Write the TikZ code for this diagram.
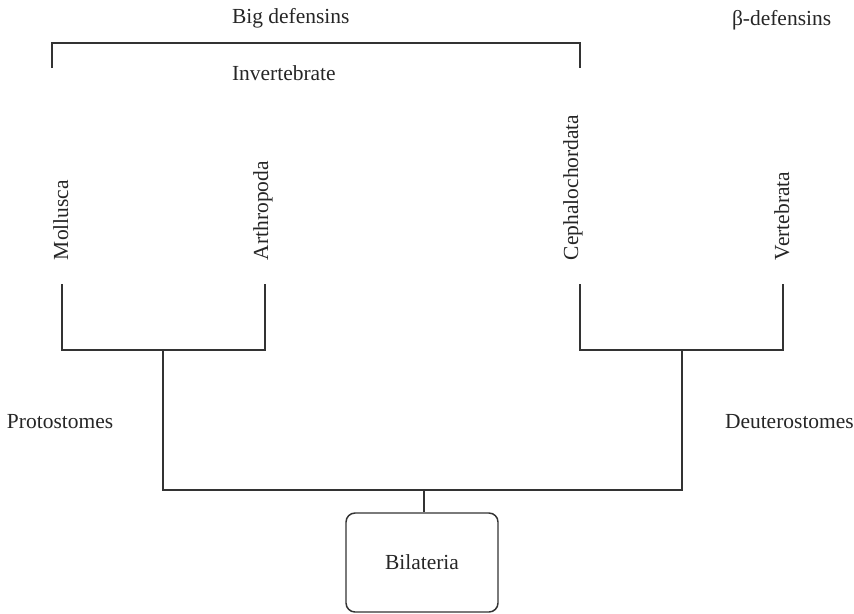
\documentclass[tikz,border=0pt]{standalone}
\usepackage{fontspec}
\setmainfont{Liberation Serif}
\begin{document}
\begin{tikzpicture}[x=0.75pt,y=-0.75pt,
  lbl/.style={inner sep=0pt,outer sep=0pt,font=\fontsize{16.1}{19}\selectfont,text=black!85},
  vlbl/.style={lbl,rotate=90,anchor=base west},
  hlbl/.style={lbl,anchor=base west},
  branch/.style={draw=black!80,line width=1.1pt},
  taxbox/.style={draw=black!80,line width=1.1pt,rounded corners=9pt*0.75,minimum width=152*0.75pt,minimum height=99*0.75pt,inner sep=0pt,font=\fontsize{16.1}{19}\selectfont,text=black!85}]
\useasboundingbox (0,0) rectangle (854,614);
% top labels
\node[hlbl] (big) at (232,23) {Big defensins};
\node[hlbl] (beta) at (732,26) {β-defensins};
\node[hlbl] (inv) at (232,80) {Invertebrate};
% bracket
\coordinate (bl) at (52,68);
\coordinate (br) at (580,68);
\draw[branch] (bl) -- (bl |- 0,43) -- (br |- 0,43) -- (br);
% leaf labels
\node[vlbl] (mol) at (68,260) {Mollusca};
\node[vlbl] (art) at (268,260) {Arthropoda};
\node[vlbl] (cep) at (578,260) {Cephalochordata};
\node[vlbl] (ver) at (789,260) {Vertebrata};
% leaf coordinates
\coordinate (m) at (62,284);
\coordinate (a) at (265,284);
\coordinate (c) at (580,284);
\coordinate (v) at (783,284);
\coordinate (pj) at (163,350);
\coordinate (dj) at (682,350);
\coordinate (root) at (424,490);
% side labels
\node[hlbl] (pro) at (7,428) {Protostomes};
\node[hlbl] (deu) at (725,428) {Deuterostomes};
% box
\node[taxbox] (bil) at (422,562.5) {Bilateria};
% tree
\draw[branch] (m) -- (m |- pj) -- (a |- pj) -- (a);
\draw[branch] (c) -- (c |- dj) -- (v |- dj) -- (v);
\draw[branch] (pj) -- (pj |- root) -- (dj |- root) -- (dj);
\draw[branch] (root) -- (bil.north -| root);
\end{tikzpicture}
\end{document}
